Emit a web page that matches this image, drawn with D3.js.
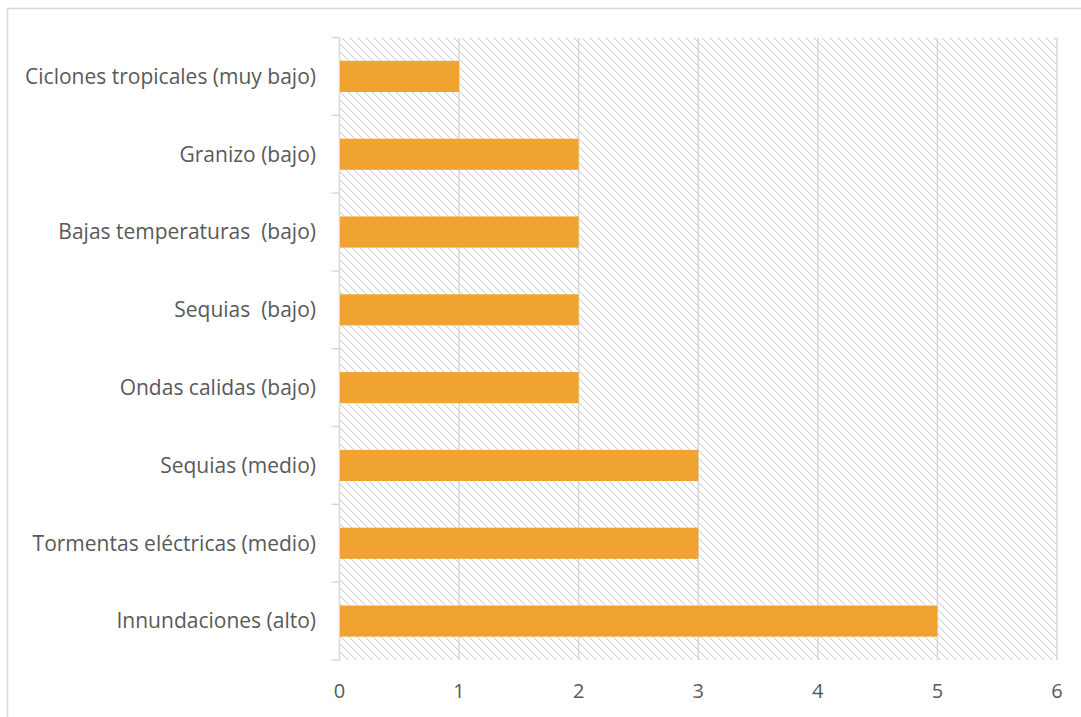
<!DOCTYPE html>
<html><head><meta charset="utf-8">
<script src="https://cdn.jsdelivr.net/npm/d3@7"></script>
<style>body{margin:0;background:#fff;} svg{display:block;font-family:"Open Sans",Lato,sans-serif;} text{white-space:pre;}</style>
</head><body>
<div id="chart"></div>
<script>
const categories = ["Ciclones tropicales (muy bajo)","Granizo (bajo)","Bajas temperaturas  (bajo)","Sequias  (bajo)","Ondas calidas (bajo)","Sequias (medio)","Tormentas eléctricas (medio)","Innundaciones (alto)"];
const values = [1,2,2,2,2,3,3,5];
const xTicks = [0,1,2,3,4,5,6];

const W = 1081, H = 717;
const m = {left:339.5, right:W-1057, top:37.5, bottom:H-660};
const svg = d3.select("#chart").append("svg").attr("width",W).attr("height",H);

const defs = svg.append("defs");
const pat = defs.append("pattern").attr("id","hatch").attr("patternUnits","userSpaceOnUse")
  .attr("width",8).attr("height",8);
for (let i=0;i<8;i++){
  pat.append("rect").attr("x",i).attr("y",i).attr("width",1).attr("height",1).attr("fill","#d0d0d0");
  pat.append("rect").attr("x",(i+1)%8).attr("y",i).attr("width",1).attr("height",1).attr("fill","#f0f0f0");
}

svg.append("rect").attr("x",7.5).attr("y",8.5).attr("width",1200).attr("height",900)
  .attr("fill","none").attr("stroke","#d9d9d9").attr("stroke-width",1.5);

const x = d3.scaleLinear().domain([0,6]).range([m.left, W-m.right]);
const y = d3.scaleBand().domain(categories).range([m.top, H-m.bottom]).paddingInner(0.6).paddingOuter(0.3);
const yb = d3.scaleBand().domain(categories).range([m.top, H-m.bottom]);

svg.append("rect").attr("x",x(0)).attr("y",m.top).attr("width",x(6)-x(0)).attr("height",H-m.bottom-m.top)
  .attr("fill","url(#hatch)").attr("shape-rendering","crispEdges");

svg.append("g").selectAll("line").data(xTicks).join("line")
  .attr("x1",d=>x(d)).attr("x2",d=>x(d)).attr("y1",m.top).attr("y2",H-m.bottom)
  .attr("stroke","#d9d9d9").attr("stroke-width",1.5);

const bounds = categories.map(c=>yb(c)).concat([H-m.bottom]);
svg.append("g").selectAll("line").data(bounds).join("line")
  .attr("x1",x(0)-8).attr("x2",x(0)).attr("y1",d=>d).attr("y2",d=>d)
  .attr("stroke","#d9d9d9").attr("stroke-width",1.5);

svg.append("g").selectAll("rect").data(values).join("rect")
  .attr("x",x(0)+0.5).attr("y",(d,i)=>y(categories[i]))
  .attr("width",d=>x(d)-x(0)-0.5).attr("height",y.bandwidth())
  .attr("fill","#F0A330");

svg.append("g").selectAll("text").data(categories).join("text")
  .attr("x",316).attr("y",d=>yb(d)+yb.bandwidth()/2).attr("dy","0.35em")
  .attr("text-anchor","end").attr("fill","#595959").attr("font-size",21).text(d=>d);

svg.append("g").selectAll("text").data(xTicks).join("text")
  .attr("x",d=>x(d)).attr("y",691).attr("dy","0.35em")
  .attr("text-anchor","middle").attr("fill","#595959").attr("font-size",20).text(d=>d);
</script>
</body></html>
